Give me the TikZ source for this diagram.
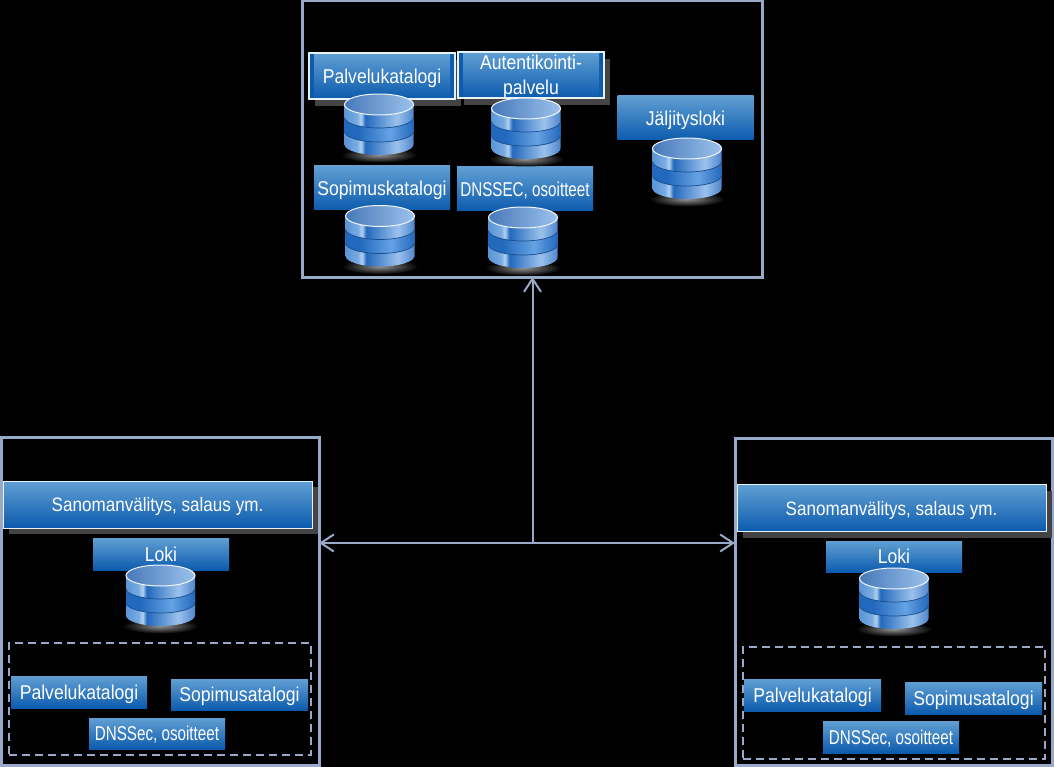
\documentclass[tikz,border=0pt]{standalone}
\usepackage{fontspec}
\setmainfont[FakeStretch=0.88]{Liberation Sans}
\newfontfamily\tiukkafont[FakeStretch=0.76]{Liberation Sans}
\usetikzlibrary{shadows, arrows.meta}

\definecolor{kehys}{HTML}{98A9C9}
\definecolor{varjo}{HTML}{444444}
\definecolor{ylasin}{HTML}{619FD3}
\definecolor{alasin}{HTML}{0C5BAE}
\definecolor{dbA}{HTML}{5A95D6}
\definecolor{dbB}{HTML}{78ABE2}
\definecolor{dbC}{HTML}{B4D2F0}
\definecolor{dbD}{HTML}{2268BC}
\definecolor{dbE}{HTML}{9CC2EC}
\definecolor{dbF}{HTML}{4F86CE}
\definecolor{dbG}{HTML}{66A2E4}

\pgfdeclarehorizontalshading{dbsivu}{100bp}{color(0bp)=(dbA); color(25bp)=(dbA); color(34bp)=(dbB); color(37bp)=(dbC); color(40bp)=(dbD); color(63bp)=(dbE); color(75bp)=(dbF); color(100bp)=(dbF)}
\pgfdeclarehorizontalshading{dbkeski}{100bp}{color(0bp)=(dbD); color(25bp)=(dbD); color(35bp)=(dbD); color(58bp)=(dbG); color(75bp)=(dbD); color(100bp)=(dbD)}

\tikzset{
        kortti/.style={top color=ylasin, bottom color=alasin, text=white, inner sep=0pt, outer sep=0pt, text depth=0pt,
                minimum width=136pt, font=\fontsize{20}{25}\selectfont, align=center},
        reunakortti/.style={kortti, draw=white!85!ylasin, line width=1.5pt, minimum width=146pt, minimum height=46pt,
                top color=alasin, bottom color=alasin,
                drop shadow={shadow xshift=6pt, shadow yshift=-7pt, fill=varjo, opacity=1},
                path picture={\shade[top color=ylasin, bottom color=alasin]
                        ([xshift=5pt]path picture bounding box.south west) rectangle ([xshift=-5pt]path picture bounding box.north east);}},
        palkki/.style={kortti, draw=white!85!ylasin, line width=1pt, minimum width=309pt, minimum height=47pt,
                font=\fontsize{19.4}{25}\selectfont,
                drop shadow={shadow xshift=6pt, shadow yshift=-6pt, fill=varjo, opacity=1}},
        aluekehys/.style={draw=kehys, line width=3pt, inner sep=0pt, outer sep=0pt},
        katkokehys/.style={draw=kehys, line width=2pt, dash pattern=on 8pt off 5pt, inner sep=0pt, outer sep=0pt,
                minimum width=302pt, minimum height=112pt},
        yhteys/.style={draw=kehys, line width=2pt, {Straight Barb[length=13pt, width=17pt]}-},
        dbkiekko/.pic={
                \shade[inner color=gray!85, outer color=black] (0,50.5) ellipse [x radius=38, y radius=7.5];
                \shade[shading=dbsivu] (-34.5,0) -- (-34.5,40) arc [start angle=180, end angle=0, x radius=34.5, y radius=10.5] -- (34.5,0) -- cycle;
                \shade[shading=dbkeski] (-34.5,13) arc [start angle=180, end angle=0, x radius=34.5, y radius=10.5] -- (34.5,27) arc [start angle=0, end angle=180, x radius=34.5, y radius=10.5] -- cycle;
                \draw[color=dbD!75!black, line width=0.7pt] (-34.5,13) arc [start angle=180, end angle=0, x radius=34.5, y radius=10.5];
                \draw[color=dbD!75!black, line width=0.7pt] (-34.5,27) arc [start angle=180, end angle=0, x radius=34.5, y radius=10.5];
                \filldraw[left color=dbF!90!black, right color=dbE, draw=white!85!dbE, line width=1pt] (0,0) ellipse [x radius=34.5, y radius=10.5];
        }
}

\begin{document}
\begin{tikzpicture}[x=1pt, y=-1pt]
        \fill[black] (0,0) rectangle (1054,767);
        \useasboundingbox (0,0) rectangle (1054,767);
        % alueet
        \node[aluekehys, minimum width=460pt, minimum height=276pt] (keskus) at (532.5,139) {};
        \node[aluekehys, minimum width=318pt, minimum height=328pt] (vasen) at (160,601) {};
        \node[aluekehys, minimum width=317pt, minimum height=327pt] (oikea) at (893.5,601.5) {};
        \node[katkokehys] (vasenkatko) at (160,699) {};
        \node[katkokehys] (oikeakatko) at (894,703) {};
        %
        \coordinate (haara) at (532.5,543);
        \draw[yhteys] (keskus.south) -- (haara);
        \draw[yhteys] (vasen.east |- haara) -- (haara);
        \draw[yhteys] (oikea.west |- haara) -- (haara);
        % keskus
        \node[reunakortti] (palvelukatalogi) at (382,76) {Palvelukatalogi};
        \node[reunakortti, text depth=-2pt] (autentikointi) at (531,75) {Autentikointi-\\palvelu};
        \node[kortti, minimum height=44pt] (jaljitysloki) at (685.5,118) {Jäljitysloki};
        \node[kortti, minimum height=44pt] (sopimuskatalogi) at (382,188) {Sopimuskatalogi};
        \node[kortti, minimum height=44pt, font=\fontsize{20}{25}\tiukkafont] (dnssec) at (525,189) {DNSSEC, osoitteet};
        \pic at (379,104.5) {dbkiekko};
        \pic at (526,108.5) {dbkiekko};
        \pic at (687,148.5) {dbkiekko};
        \pic at (380,216) {dbkiekko};
        \pic at (523,217.5) {dbkiekko};
        % vasen
        \node[palkki] (vasensanoma) at (157.5,504.5) {Sanomanvälitys, salaus ym.};
        \node[kortti, minimum height=32pt] (vasenloki) at (161,554) {Loki};
        \pic at (160.5,575.5) {dbkiekko};
        \node[kortti, minimum height=32pt] (vasenpalvelu) at (79,692) {Palvelukatalogi};
        \node[kortti, minimum width=137pt, minimum height=31pt] (vasensopimus) at (239.5,694.5) {Sopimusatalogi};
        \node[kortti, minimum height=31pt, font=\fontsize{20}{25}\tiukkafont] (vasendns) at (157,733.5) {DNSSec, osoitteet};
        % oikea
        \node[palkki] (oikeasanoma) at (891.5,508) {Sanomanvälitys, salaus ym.};
        \node[kortti, minimum height=31pt] (oikealoki) at (894,556.5) {Loki};
        \pic at (894,578.5) {dbkiekko};
        \node[kortti, minimum width=137pt, minimum height=32pt] (oikeapalvelu) at (812.5,695) {Palvelukatalogi};
        \node[kortti, minimum width=137pt, minimum height=32pt] (oikeasopimus) at (973.5,698) {Sopimusatalogi};
        \node[kortti, minimum height=32pt, font=\fontsize{20}{25}\tiukkafont] (oikeadns) at (891,737) {DNSSec, osoitteet};
\end{tikzpicture}
\end{document}
